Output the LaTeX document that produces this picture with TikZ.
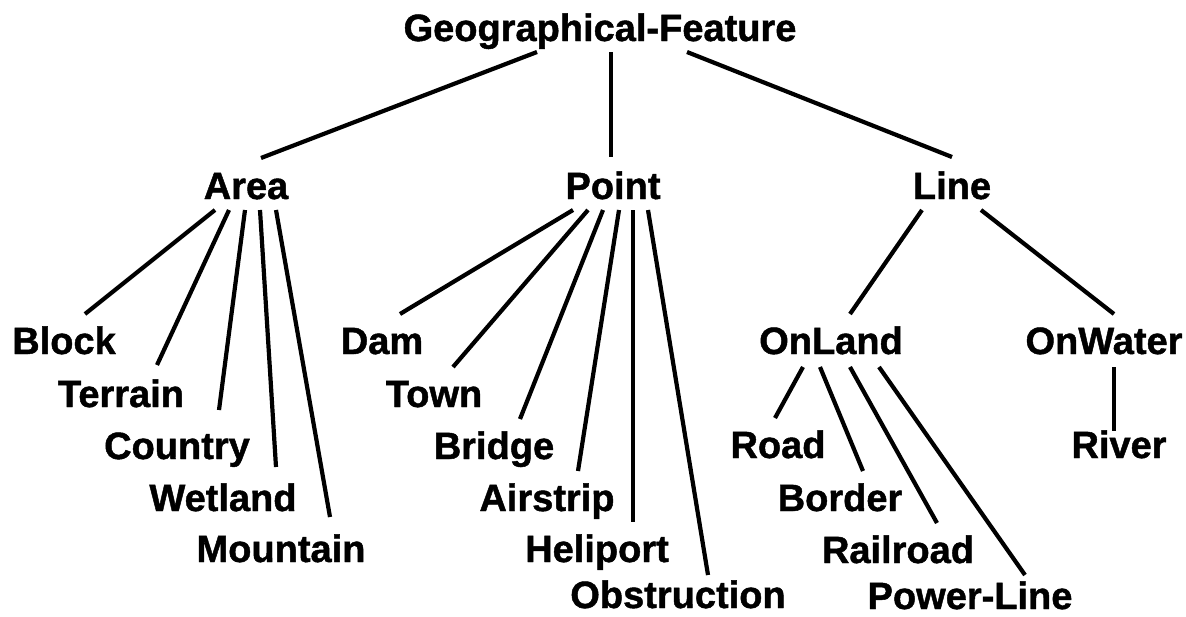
\documentclass[tikz,border=0pt]{standalone}
\usepackage{fontspec}
\setmainfont{Liberation Sans}[BoldFeatures={FakeBold=1.2}]
\begin{document}
\begin{tikzpicture}[x={(1pt,0)}, y={(0,-1pt)},
  lbl/.style={inner sep=0pt, anchor=base, text depth=0pt, font=\bfseries\fontsize{38}{40}\selectfont},
  link/.style={line width=4.2pt, black}]
\useasboundingbox (0,0) rectangle (1186,616);

% taxonomy labels, placed by centre x and baseline y
\node[lbl] (geo) at (600,41) {Geographical-Feature};
\node[lbl] (area) at (246,199) {Area};
\node[lbl] (point) at (613,199) {Point};
\node[lbl] (line) at (952,199) {Line};

\node[lbl] (block) at (64,354) {Block};
\node[lbl] (terrain) at (121,407) {Terrain};
\node[lbl] (country) at (177,459) {Country};
\node[lbl] (wetland) at (223,511) {Wetland};
\node[lbl] (mountain) at (281,562) {Mountain};

\node[lbl] (dam) at (382,354) {Dam};
\node[lbl] (town) at (434,407) {Town};
\node[lbl] (bridge) at (494,459) {Bridge};
\node[lbl] (airstrip) at (547,511) {Airstrip};
\node[lbl] (heliport) at (597,562) {Heliport};
\node[lbl] (obstruction) at (678,608) {Obstruction};

\node[lbl] (onland) at (831,354) {OnLand};
\node[lbl] (onwater) at (1104,354) {OnWater};

\node[lbl] (road) at (778,458) {Road};
\node[lbl] (border) at (840,511) {Border};
\node[lbl] (railroad) at (898,563) {Railroad};
\node[lbl] (powerline) at (970,609) {Power-Line};
\node[lbl] (river) at (1119,458) {River};

% parent -> child connectors, each end offset from the label's baseline centre
\newcommand{\treelink}[4]{\draw[link] ([shift={(#2)}]#1.base) -- ([shift={(#4)}]#3.base);}

\treelink{geo}{-63,11}{area}{15,-41}
\treelink{geo}{11,11}{point}{-2,-42}
\treelink{geo}{87,11}{line}{0,-42}

\treelink{area}{-31,11}{block}{21,-40}
\treelink{area}{-17,11}{terrain}{36,-42}
\treelink{area}{-1,11}{country}{42,-49}
\treelink{area}{14,11}{wetland}{53,-44}
\treelink{area}{30,11}{mountain}{49,-45}

\treelink{point}{-40,11}{dam}{18,-40}
\treelink{point}{-25,11}{town}{19,-40}
\treelink{point}{-10,11}{bridge}{26,-40}
\treelink{point}{6,11}{airstrip}{31,-40}
\treelink{point}{20,11}{heliport}{36,-40}
\treelink{point}{35,11}{obstruction}{30,-33}

\treelink{line}{-30,11}{onland}{19,-40}
\treelink{line}{29,11}{onwater}{10,-40}

\treelink{onland}{-28,13}{road}{-3,-40}
\treelink{onland}{-11,13}{border}{23,-40}
\treelink{onland}{19,13}{railroad}{39,-40}
\treelink{onland}{48,13}{powerline}{55,-34}

\treelink{onwater}{10,13}{river}{-5,-27}
\end{tikzpicture}
\end{document}
